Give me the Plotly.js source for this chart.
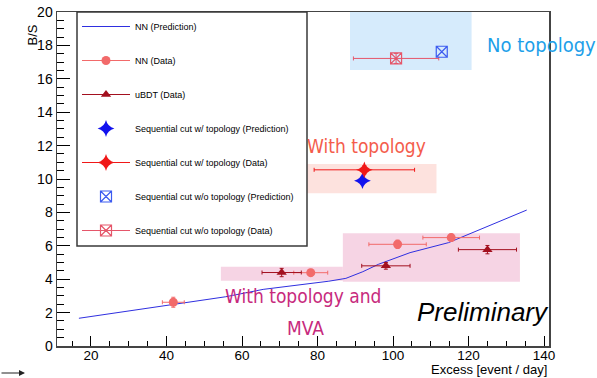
<!DOCTYPE html>
<html>
<head>
<meta charset="utf-8">
<script src="https://cdn.plot.ly/plotly-3.0.1.min.js"></script>
<style>html,body{margin:0;padding:0;background:#fff;}#chart{width:597px;height:378px;}</style>
</head>
<body>
<div id="chart"></div>
<script>
// ---- data ----
const nnPredX = [16.8, 42, 55.7, 65.6, 76, 83, 87.5, 92, 96.1, 104.5, 114.7, 120, 135.4];
const nnPredY = [1.66, 2.5, 2.95, 3.39, 3.67, 3.88, 4.05, 4.45, 4.89, 5.59, 6.19, 6.7, 8.14];

const nnDataX = [41.8, 78.2, 101.2, 115.4];
const nnDataY = [2.62, 4.39, 6.09, 6.49];
const nnDataXErr = [2.9, 4.5, 7.6, 7.5];
const nnDataYErr = [0.3, 0.2, 0.25, 0.2];

const ubdtX = [70.5, 98.1, 125.0];
const ubdtY = [4.4, 4.8, 5.77];
const ubdtXErr = [5.2, 6.4, 7.7];
const ubdtYErr = [0.25, 0.2, 0.25];

const seqTopoPredX = [91.9];
const seqTopoPredY = [9.9];
const seqTopoDataX = [92.4];
const seqTopoDataY = [10.55];
const seqTopoDataXErr = [13.3];
const seqTopoDataYErr = [0.25];

const noTopoPredX = [112.9];
const noTopoPredY = [17.62];
const noTopoDataX = [100.8];
const noTopoDataY = [17.22];
const noTopoDataXErr = [11.3];
const noTopoDataYErr = [0.3];

// shaded regions (data coordinates): No topology, With topology, MVA (two parts)
const regionX0 = [88.6, 77.1, 54.4, 86.7];
const regionX1 = [120.8, 111.5, 86.7, 133.6];
const regionY0 = [16.53, 9.14, 3.91, 3.85];
const regionY1 = [20, 10.9, 4.75, 6.75];
const regionColors = ['#d6ebfc', '#fde2de', '#f6d4e4', '#f6d4e4'];

const legendNames = ['NN (Prediction)', 'NN (Data)', 'uBDT (Data)',
  'Sequential cut w/ topology (Prediction)', 'Sequential cut w/ topology (Data)',
  'Sequential cut w/o topology (Prediction)', 'Sequential cut w/o topology (Data)'];

// ---- colours ----
const cBlueLine = '#2f2fe0';
const cNN = '#f26a6a';
const cUBDT = '#a3101f';
const cSeqPred = '#1212ee';
const cSeqData = '#f01818';
const cNoPred = '#3d5cf0';
const cNoData = '#e5566a';

const FONT = 'Liberation Sans, Arial, Helvetica, sans-serif';

function errX(arr, color) { return {type: 'data', array: arr, visible: true, color: color, thickness: 1, width: 2}; }
function errY(arr, color) { return {type: 'data', array: arr, visible: true, color: color, thickness: 1, width: 2}; }

const traces = [];
traces.push({x: nnPredX, y: nnPredY, mode: 'lines', name: legendNames[0], legendgroup: 'g1',
  line: {color: cBlueLine, width: 1}});
traces.push({x: nnDataX, y: nnDataY, mode: 'markers', showlegend: false,
  marker: {symbol: 'circle', size: 9, color: cNN},
  error_x: errX(nnDataXErr, cNN), error_y: errY(nnDataYErr, cNN)});
traces.push({x: [null], y: [null], mode: 'lines+markers', name: legendNames[1], legendgroup: 'g2',
  marker: {symbol: 'circle', size: 9, color: cNN}, line: {color: cNN, width: 1}});
traces.push({x: ubdtX, y: ubdtY, mode: 'markers', showlegend: false,
  marker: {symbol: 'triangle-up', size: 9, color: cUBDT},
  error_x: errX(ubdtXErr, cUBDT), error_y: errY(ubdtYErr, cUBDT)});
traces.push({x: [null], y: [null], mode: 'lines+markers', name: legendNames[2], legendgroup: 'g3',
  marker: {symbol: 'triangle-up', size: 9, color: cUBDT}, line: {color: cUBDT, width: 1}});
traces.push({x: seqTopoPredX, y: seqTopoPredY, mode: 'markers', name: legendNames[3], legendgroup: 'g4',
  marker: {symbol: 'star-diamond', size: 12, color: cSeqPred}});
traces.push({x: seqTopoDataX, y: seqTopoDataY, mode: 'markers', showlegend: false,
  marker: {symbol: 'star-diamond', size: 12, color: cSeqData},
  error_x: errX(seqTopoDataXErr, cSeqData), error_y: errY(seqTopoDataYErr, cSeqData)});
traces.push({x: [null], y: [null], mode: 'lines+markers', name: legendNames[4], legendgroup: 'g5',
  marker: {symbol: 'star-diamond', size: 12, color: cSeqData}, line: {color: cSeqData, width: 1}});
traces.push({x: noTopoDataX, y: noTopoDataY, mode: 'markers', showlegend: false,
  marker: {symbol: 'square-x-open', size: 11, color: cNoData, line: {width: 1.2, color: cNoData}},
  error_x: errX(noTopoDataXErr, cNoData), error_y: errY(noTopoDataYErr, cNoData)});
traces.push({x: noTopoPredX, y: noTopoPredY, mode: 'markers', name: legendNames[5], legendgroup: 'g6',
  marker: {symbol: 'square-x-open', size: 11, color: cNoPred, line: {width: 1.2, color: cNoPred}}});
traces.push({x: [null], y: [null], mode: 'lines+markers', name: legendNames[6], legendgroup: 'g7',
  marker: {symbol: 'square-x-open', size: 11, color: cNoData, line: {width: 1.2, color: cNoData}},
  line: {color: cNoData, width: 1}});

const L = 57, R = 48, T = 12, B = 32, W = 597, H = 378;
const pw = W - L - R, ph = H - T - B;
function px2xp(px) { return (px - L) / pw; }
function py2yp(py) { return (H - B - py) / ph; }

const shapes = [];
for (let i = 0; i < regionX0.length; i++) {
  shapes.push({type: 'rect', xref: 'x', yref: 'y', x0: regionX0[i], x1: regionX1[i], y0: regionY0[i], y1: regionY1[i],
    fillcolor: regionColors[i], line: {width: 0}, layer: 'below'});
}
shapes.push({type: 'rect', xref: 'paper', yref: 'paper', x0: px2xp(77), x1: px2xp(307), y0: py2yp(246), y1: 1,
  fillcolor: '#ffffff', line: {color: '#3a3a3a', width: 1.5}, layer: 'above'});

const HAND = 'DejaVu Sans Condensed, DejaVu Sans, sans-serif';
const annotations = [
  {xref: 'x', yref: 'y', x: 139.3, y: 18.0, text: 'No topology', showarrow: false,
    font: {family: HAND, size: 20, color: '#1d9fe9'}},
  {xref: 'x', yref: 'y', x: 92.85, y: 11.98, text: 'With topology', showarrow: false,
    font: {family: HAND, size: 19, color: '#f45c4c'}},
  {xref: 'x', yref: 'y', x: 76.2, y: 2.99, text: 'With topology and', showarrow: false,
    font: {family: HAND, size: 19, color: '#c72a7d'}},
  {xref: 'x', yref: 'y', x: 76.7, y: 1.08, text: 'MVA', showarrow: false,
    font: {family: HAND, size: 19, color: '#c72a7d'}},
  {xref: 'x', yref: 'y', x: 123.7, y: 2.04, text: '<i>Preliminary</i>', showarrow: false,
    font: {family: FONT, size: 26, color: '#000'}},
  {xref: 'paper', yref: 'paper', x: 1, xanchor: 'right', y: py2yp(379), yanchor: 'bottom',
    text: 'Excess [event / day]', showarrow: false, font: {family: FONT, size: 13, color: '#000'}},
  {xref: 'paper', yref: 'paper', x: px2xp(22), y: py2yp(22.5), text: 'B/S', textangle: -90, showarrow: false,
    font: {family: FONT, size: 13, color: '#000'}},
  {xref: 'paper', yref: 'paper', x: px2xp(25), y: py2yp(373), ax: -25, ay: 0, text: '', showarrow: true,
    arrowhead: 2, arrowsize: 1, arrowwidth: 1.2, arrowcolor: '#222'}
];

const layout = {
  width: W, height: H,
  margin: {l: L, r: R, t: T, b: B, pad: 0},
  paper_bgcolor: '#fff', plot_bgcolor: '#fff',
  font: {family: FONT, size: 14, color: '#000'},
  showlegend: true,
  legend: {x: px2xp(77), y: 1, xanchor: 'left', yanchor: 'top', bgcolor: 'rgba(0,0,0,0)', borderwidth: 0,
    font: {family: FONT, size: 9, color: '#000'}, itemwidth: 48, tracegroupgap: 15, traceorder: 'grouped'},
  xaxis: {range: [11, 141.3], tick0: 0, dtick: 20, ticks: 'inside', ticklen: 10, tickwidth: 1, tickcolor: '#000',
    minor: {dtick: 5, ticks: 'inside', ticklen: 5, tickwidth: 1, tickcolor: '#000'},
    showgrid: false, zeroline: false, showline: true, linecolor: '#444', linewidth: 1.5, mirror: true,
    tickfont: {size: 13.5}, ticklabelstandoff: -4, fixedrange: true},
  yaxis: {range: [0, 20], tick0: 0, dtick: 2, ticks: 'inside', ticklen: 13, tickwidth: 1, tickcolor: '#000',
    minor: {dtick: 0.5, ticks: 'inside', ticklen: 7, tickwidth: 1, tickcolor: '#000'},
    showgrid: false, zeroline: false, showline: true, linecolor: '#444', linewidth: 1.5, mirror: true,
    tickfont: {size: 14}, fixedrange: true},
  shapes: shapes,
  annotations: annotations
};

Plotly.newPlot('chart', traces, layout, {displayModeBar: false, staticPlot: true});
</script>
</body>
</html>
